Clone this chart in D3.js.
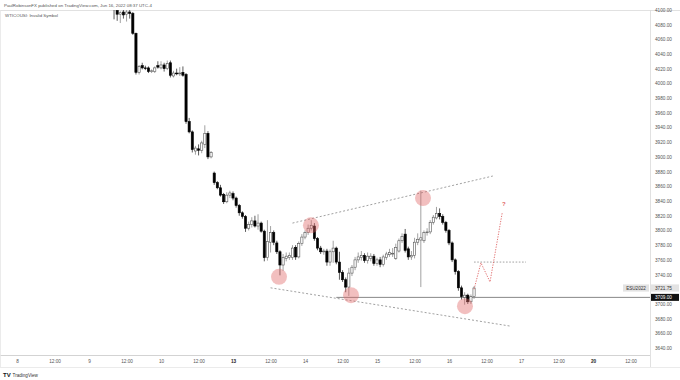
<!DOCTYPE html>
<html><head><meta charset="utf-8">
<script src="https://cdn.jsdelivr.net/npm/d3@7"></script>
<style>
body{margin:0;background:#fff}
svg{display:block}
text{font-family:"Liberation Sans",Arial,sans-serif}
</style>
</head><body>
<svg id="c" width="680" height="380"></svg>
<script>
// ---- DATA (ESU2022, 1h bars; bar index 0 = Jun 8 00:00, 23 bars per session day) ----
const firstBar = 31;
const openP = [4104,4099,4094,4097,4094,4097,4095,4068,
  4015,4024,4021,4021,4016,4016,4024,4021,4025,4020,4028,4010,4014,4013,4015,
  4012,3948,3934,3908,3911,3909,3917,3932,3900,
  3878,3865,3858,3849,3839,3848,3850,3844,3834,3824,3819,3803,3808,3813,3806,3810,3799,3763,3784,3797,
  3783,3771,3753,3762,3763,3763,3777,3764,3782,3791,3797,3803,3806,3789,3776,3771,3772,3757,3771,3776,
  3757,3743,3733,3723,3742,3750,3760,3763,3766,3759,3762,3765,3755,3760,3754,3763,3767,3769,3762,3772,
  3786,3795,3775,3764,3766,3784,3787,3786,3797,3798,3811,3817,3823,3819,3811,3800,3783,3760,3744,3722,
  3709,3712,3703,3710];
const highP = [4112,4102,4098,4102,4100,4100,4097,4069,
  4025,4028,4024,4023,4019,4023,4030,4030,4028,4031,4031,4017,4020,4022,4023,
  4014,3953,3936,3915,3917,3922,3943,3935,3908,
  3880,3867,3862,3851,3852,3854,3853,3846,3836,3826,3821,3812,3818,3820,3822,3812,3801,3814,3806,3800,
  3786,3773,3768,3770,3770,3780,3780,3785,3795,3800,3808,3814,3810,3791,3779,3775,3775,3774,3786,3778,
  3771,3746,3736,3749,3753,3764,3770,3772,3769,3770,3769,3768,3763,3764,3767,3771,3775,3776,3782,3789,
  3796,3802,3778,3772,3790,3796,3854,3800,3803,3814,3821,3832,3830,3822,3813,3802,3785,3762,3746,3725,
  3716,3714,3713,3724];
const lowP = [4087,4085,4082,4088,4084,4088,4066,4012,
  4012,4019,4018,4014,4014,4014,4020,4019,4016,4018,4008,4008,4011,4010,4009,
  3945,3932,3906,3903,3902,3905,3912,3897,3898,
  3862,3856,3846,3836,3837,3844,3841,3831,3820,3816,3798,3800,3804,3804,3801,3797,3758,3759,3770,3780,
  3768,3739,3745,3758,3760,3760,3760,3762,3779,3788,3794,3800,3786,3773,3768,3767,3752,3752,3756,3754,
  3733,3730,3716,3711,3738,3746,3756,3759,3756,3755,3758,3752,3752,3750,3751,3760,3764,3764,3760,3770,
  3783,3770,3760,3760,3762,3780,3723,3783,3793,3795,3808,3815,3815,3808,3797,3780,3757,3740,3718,3706,
  3699,3700,3700,3707];
const closeP = [4101,4094,4096,4093,4097,4095,4068,4015,
  4023,4021,4020,4016,4017,4021,4022,4025,4020,4027,4011,4014,4013,4014,4011,
  3948,3934,3910,3912,3909,3919,3932,3900,3906,
  3865,3858,3848,3839,3848,3851,3844,3834,3824,3819,3803,3808,3813,3806,3810,3799,3763,3785,3797,3784,
  3771,3753,3763,3765,3766,3776,3764,3782,3791,3797,3803,3807,3789,3776,3771,3772,3757,3771,3776,3757,
  3743,3733,3723,3742,3750,3760,3764,3766,3759,3765,3765,3755,3760,3754,3764,3768,3770,3769,3777,3786,
  3792,3773,3764,3766,3784,3788,3790,3797,3798,3811,3818,3823,3819,3811,3800,3783,3760,3744,3722,3710,
  3712,3703,3710,3721.75];

const xTickLabels = ["8","12:00","9","12:00","10","12:00","13","12:00","14","12:00","15","12:00","16","12:00","17","12:00","20","12:00"];
const xTickBars   = [0,12,23,35,46,58,69,81,92,104,115,127,138,150,161,173,184,196];
const xBoldLabels = ["13","20"];
const yTicks = d3.range(3640, 4101, 20).filter(v => v !== 3720);

// annotations (bar index, price)
const upperLine = [[88, 3810],[152, 3874]];
const lowerLine = [[81, 3722],[157.5, 3670]];
const circleBars   = [83.7, 93.9, 106.7, 129.7, 143.1];
const circlePrices = [3737, 3807, 3712, 3844, 3697];
const projBars   = [146, 148.2, 151.1, 155];
const projPrices = [3720, 3756, 3730, 3824];
const targetLevel = 3757, targetFrom = 146, targetTo = 162.6;
const supportLevel = 3709, supportFrom = 102;
const lastPrice = 3721.75;

// ---- LAYOUT ----
const svg = d3.select("#c");
const plotL = 0, plotR = 650, plotT = 10, plotB = 355, frameB = 367;
const x = d3.scaleLinear().domain([0, 23]).range([17, 89]);
const y = d3.scaleLinear().domain([3700, 4080]).range([304, 24.5]);

svg.append("rect").attr("width",680).attr("height",380).attr("fill","#fff");
svg.append("defs").append("clipPath").attr("id","plot")
  .append("rect").attr("x",plotL).attr("y",plotT).attr("width",plotR-plotL).attr("height",plotB-plotT);

// header
svg.append("text").attr("x",4).attr("y",7).attr("font-size",4.4).attr("fill","#555")
  .text("PaulRobinsonFX published on TradingView.com, Jun 16, 2022 08:37 UTC-4");
// frame
const frame = svg.append("g").attr("stroke","#d9d9d9").attr("stroke-width",0.8);
frame.append("line").attr("x1",0).attr("x2",680).attr("y1",plotT+0.5).attr("y2",plotT+0.5);
frame.append("line").attr("x1",plotR+0.5).attr("x2",plotR+0.5).attr("y1",plotT).attr("y2",frameB);
frame.append("line").attr("x1",0).attr("x2",plotR).attr("y1",plotB+0.5).attr("y2",plotB+0.5).attr("stroke","#c8c8c8");
frame.append("line").attr("x1",0).attr("x2",680).attr("y1",frameB+0.5).attr("y2",frameB+0.5).attr("stroke","#e6e6e6");
frame.append("line").attr("x1",0.5).attr("x2",0.5).attr("y1",plotT).attr("y2",frameB).attr("stroke","#e6e6e6");

svg.append("text").attr("x",5).attr("y",17).attr("font-size",4.4).attr("fill","#555")
  .text("WTICOUSI: Invalid Symbol");

// y axis
const yAxis = d3.axisRight(y).tickValues(yTicks).tickFormat(d => d.toFixed(2)).tickSize(0).tickPadding(5);
const ya = svg.append("g").attr("transform",`translate(${plotR},0)`).call(yAxis);
ya.select(".domain").remove();
ya.selectAll("text").attr("font-size",4.7).attr("fill","#555").attr("font-family","Liberation Sans, Arial, sans-serif");
ya.selectAll(".tick").filter(d => y(d) < plotT-1).remove();

// x axis
const xAxis = d3.axisBottom(x).tickValues(xTickBars).tickFormat((d,i) => xTickLabels[i]).tickSize(0).tickPadding(5);
const xa = svg.append("g").attr("transform",`translate(0,${plotB})`).call(xAxis);
xa.select(".domain").remove();
xa.selectAll("text").attr("font-size",4.7).attr("fill",(d,i)=> xBoldLabels.includes(xTickLabels[i]) ? "#222" : "#555")
  .attr("font-weight",(d,i)=> xBoldLabels.includes(xTickLabels[i]) ? "bold" : "normal")
  .attr("font-family","Liberation Sans, Arial, sans-serif");
xa.selectAll(".tick").filter(d => x(d) > plotR-4).remove();

// plot group
const g = svg.append("g").attr("clip-path","url(#plot)");

// support line
g.append("line").attr("x1",x(supportFrom)).attr("x2",plotR).attr("y1",y(supportLevel)).attr("y2",y(supportLevel))
  .attr("stroke","#7a7a7a").attr("stroke-width",0.9);

// candles
const bars = openP.map((o,k) => ({i:firstBar+k, o, h:highP[k], l:lowP[k], c:closeP[k]}));
const bw = 2.2;
g.append("g").selectAll("line").data(bars).join("line")
  .attr("x1",d=>x(d.i)).attr("x2",d=>x(d.i)).attr("y1",d=>y(d.h)).attr("y2",d=>y(d.l))
  .attr("stroke",d=> d.c>=d.o ? "#8a8a8a" : "#333").attr("stroke-width",0.8);
g.append("g").selectAll("rect").data(bars).join("rect")
  .attr("x",d=>x(d.i)-bw/2).attr("width",bw)
  .attr("y",d=>y(Math.max(d.o,d.c)))
  .attr("height",d=>Math.max(0.8, Math.abs(y(d.o)-y(d.c))))
  .attr("fill",d=> d.c>=d.o ? "#fff" : "#000")
  .attr("stroke",d=> d.c>=d.o ? "#555" : "#000").attr("stroke-width",0.6);

// trendlines
const line = d3.line().x(d=>x(d[0])).y(d=>y(d[1]));
[upperLine, lowerLine].forEach(l => g.append("path").attr("d",line(l)).attr("fill","none")
  .attr("stroke","#888").attr("stroke-width",0.8).attr("stroke-dasharray","2,2"));

// circles
g.append("g").selectAll("circle").data(circleBars).join("circle")
  .attr("cx",d=>x(d)).attr("cy",(d,k)=>y(circlePrices[k])).attr("r",8)
  .attr("fill","#e06666").attr("fill-opacity",0.42);

// target dotted level
g.append("line").attr("x1",x(targetFrom)).attr("x2",x(targetTo)).attr("y1",y(targetLevel)).attr("y2",y(targetLevel))
  .attr("stroke","#999").attr("stroke-width",0.9).attr("stroke-dasharray","1.6,1.6");

// projection path
g.append("path").attr("d",line(projBars.map((b,k)=>[b,projPrices[k]]))).attr("fill","none")
  .attr("stroke","#e06666").attr("stroke-width",0.9).attr("stroke-dasharray","1.3,1.3");
g.append("text").attr("x",x(projBars[3])+1.5).attr("y",y(projPrices[3])-7).attr("text-anchor","middle")
  .attr("font-size",6).attr("fill","#e06666").attr("font-weight","bold").text("?");

// price labels
const lp = svg.append("g");
lp.append("rect").attr("x",623).attr("y",y(lastPrice)-3.6).attr("width",26).attr("height",7.2).attr("fill","#e3e3e3");
lp.append("text").attr("x",636).attr("y",y(lastPrice)+1.7).attr("text-anchor","middle").attr("font-size",4.6).attr("fill","#333").text("ESU2022");
lp.append("rect").attr("x",651).attr("y",y(lastPrice)-3.6).attr("width",28).attr("height",7.2).attr("fill","#e3e3e3");
lp.append("text").attr("x",655).attr("y",y(lastPrice)+1.7).attr("font-size",4.7).attr("fill","#333").text(lastPrice.toFixed(2));
lp.append("rect").attr("x",651).attr("y",y(supportLevel)-3.5).attr("width",28).attr("height",7).attr("fill","#111");
lp.append("text").attr("x",655).attr("y",y(supportLevel)+1.7).attr("font-size",4.7).attr("fill","#fff").text(supportLevel.toFixed(2));

// TradingView footer
const ft = svg.append("g");
ft.append("text").attr("x",3).attr("y",377).attr("font-size",6).attr("font-weight","bold").attr("fill","#131722").text("TV");
ft.append("text").attr("x",12.5).attr("y",376.5).attr("font-size",4.6).attr("fill","#333").text("TradingView");
</script>
</body></html>
